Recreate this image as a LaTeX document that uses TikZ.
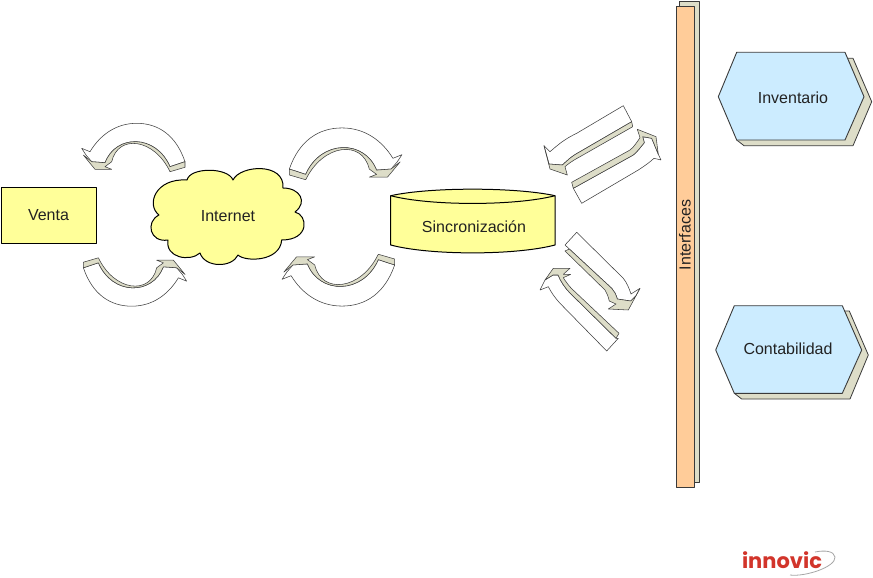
\documentclass[tikz,border=0pt]{standalone}
\usepackage{fontspec}
\setmainfont{Liberation Sans}
\newfontfamily\logofont{Poppins}
\definecolor{ylw}{HTML}{FFFF99}
\definecolor{blu}{HTML}{CCECFF}
\definecolor{org}{HTML}{FFCC99}
\definecolor{shd}{HTML}{DDDDC8}
\definecolor{edge}{HTML}{3A3A3A}
\definecolor{lbl}{HTML}{222222}
\definecolor{logored}{HTML}{D2352B}
\tikzset{
  line/.style={draw=edge,line width=0.9pt,line join=round},
  thin line/.style={draw=black!75,line width=0.55pt,line join=round},
  yellowbox/.style={draw=black,line width=1pt,line join=round,fill=ylw},
  label/.style={font=\fontsize{16}{18}\selectfont,text=lbl,inner sep=0pt},
  band/.style={thin line,fill=shd},
  face/.style={thin line,fill=white},
  backing/.style={band,draw=edge,line width=0.8pt}
}
% curved block arrow: drawn once in the coordinates of the upper-left arrow
\newcommand{\curvearrow}{%
  \path[face] (185,161.7) .. controls (176,135) and (158,123.3) .. (136.7,123.3)
     .. controls (116,123.3) and (100,135) .. (90,151.7)
     -- (81.7,148.3) -- (86,155) -- (91.7,161.7) -- (105,162.7)
     .. controls (116,134) and (156,134) .. (170,166.7) -- cycle;
  \path[band] (170,166.7) .. controls (156,134) and (116,134) .. (105,162.7)
     -- (91.7,161.7) -- (83.3,155) -- (95,169.3) -- (111.7,169.3) -- (105,166.7) -- (111.7,161.7)
     .. controls (118,134) and (154,138) .. (170,171.7)
     -- (185,167.3) -- (185,161.7) -- cycle;
}
\begin{document}
\begin{tikzpicture}[x=1pt,y=-1pt]
\useasboundingbox (0,0) rectangle (873,578);

% curved arrows
\begin{scope}\curvearrow\end{scope}
\begin{scope}[shift={(268.4,429.5)},xscale=-1,yscale=-1]\curvearrow\end{scope}
\begin{scope}[shift={(491,-4)},xscale=-1.09,yscale=1.07]\curvearrow\end{scope}
\begin{scope}[shift={(193,438)},xscale=1.09,yscale=-1.07]\curvearrow\end{scope}

% straight block arrows, upper pair
\path[face] (623.3,105.7) -- (631.7,121.7) -- (580,151.7) .. controls (570,157) and (566,162) .. (562.3,165)
  -- (549,164) -- (544,145.7) -- (550,151.7) .. controls (560,143) and (565,139) .. (576.7,133.3) -- cycle;
\path[band] (631.7,121.7) -- (632.7,126.7) -- (580,156.7) .. controls (572,161) and (568,164) .. (565,166.7)
  -- (567.3,175) -- (550,169) -- (544,145.7) -- (549,164) -- (562.3,165)
  .. controls (566,162) and (570,157) .. (580,151.7) -- cycle;
\path[face] (573.3,188.3) -- (581.7,203.3) -- (638.3,170) .. controls (646,165) and (650,162) .. (654,158.3)
  -- (661,160) -- (658.3,154.3) -- (651.7,138.3) -- (642.7,136.7) -- (644.3,142.7)
  .. controls (640,148) and (637,152) .. (633.3,155) -- cycle;
\path[band] (571.7,182.3) -- (630,150) .. controls (634,147) and (637,142) .. (640,137.7)
  -- (637.3,129.3) -- (656,136.7) -- (658.3,154.3) -- (651.7,138.3) -- (642.7,136.7) -- (644.3,142.7)
  .. controls (640,148) and (637,152) .. (633.3,155) -- (573.3,188.3) -- cycle;

% straight block arrows, lower pair
\path[face] (576.7,232.3) -- (623.3,278.3) .. controls (627,283) and (629,288) .. (631,294)
  -- (640,288.3) -- (636,295.7) -- (630.7,301) -- (617.3,299)
  .. controls (616,294) and (614,291) .. (611.7,288.3) -- (569.3,249) -- (565,245) -- cycle;
\path[band] (569.3,249) -- (611.7,288.3) .. controls (614,291) and (616,294) .. (617.3,299)
  -- (630.7,301) -- (636,295.7) -- (640,288.3) -- (628.3,310) -- (608.3,309) -- (616,304) -- (609.3,301)
  .. controls (608,296) and (607,293) .. (605,290) -- (565,251) -- cycle;
\path[face] (618.3,338.3) -- (606.7,351) -- (560,303.3) .. controls (555,298) and (551,292) .. (548.3,286.7)
  -- (540,290) -- (545,280) -- (553,275) -- (558,275) .. controls (561,282) and (565,288) .. (570,293)
  -- (616,338.3) -- cycle;
\path[band] (545,280) -- (553.3,268.3) -- (570,268.3) -- (563.3,274.3) -- (570.7,274.3) -- (563.3,277.7)
  .. controls (566,282) and (569,286) .. (572,289) -- (619,333.3) -- (616,338.3) -- (570,293)
  .. controls (565,288) and (561,282) .. (558,275) -- (553,275) -- cycle;

% Venta
\node[yellowbox,label,minimum width=95pt,minimum height=56pt] (venta) at (48.5,215) {Venta};

% Internet
\path[yellowbox] (187,180) .. controls (190,167) and (228,167) .. (233,180)
  .. controls (240,165) and (285,162) .. (283,188)
  .. controls (300,188) and (308,202) .. (295,212)
  .. controls (308,215) and (310,240) .. (281.7,240)
  .. controls (280,262) and (245,262) .. (238,255)
  .. controls (232,268) and (205,268) .. (200,253)
  .. controls (190,262) and (165,258) .. (168,240)
  .. controls (150,243) and (145,222) .. (159,215)
  .. controls (146,205) and (155,178) .. (187,180) -- cycle;
\node[label] (internet) at (228,216.5) {Internet};

% Sincronizacion
\path[yellowbox] (390.7,195.7) .. controls (430,187) and (515,187) .. (555,195.7)
  -- (555,245) .. controls (515,255.5) and (430,255.5) .. (390.7,245) -- cycle;
\draw[yellowbox,fill=none] (390.7,195.7) .. controls (430,206) and (515,206) .. (555,195.7);
\node[label] (sinc) at (474,226.5) {Sincronización};

% Interfaces
\path[backing] (679.5,1) rectangle (699,482.5);
\node[line,fill=org,minimum width=18.3pt,minimum height=481pt,inner sep=0pt] (interfaces) at (685.2,247) {};
\node[label,rotate=90] (interfaceslabel) at (685,235) {Interfaces};

% Inventario
\path[backing] (844,58.3) -- (853,58.3) -- (871.7,101.7) -- (853,145.7) -- (744,145.7) -- (736.7,140) -- cycle;
\path[line,fill=blu] (736.7,52.3) -- (845,52.3) -- (864,96.7) -- (845,140) -- (736.7,140) -- (718.3,96.7) -- cycle;
\node[label] (inventario) at (793,97.5) {Inventario};

% Contabilidad
\path[backing] (842.3,311) -- (849.3,311) -- (868.3,355) -- (850,399) -- (741.7,399) -- (734.3,393.3) -- cycle;
\path[line,fill=blu] (734.3,305.7) -- (842.3,305.7) -- (861.7,350) -- (842.3,393.3) -- (734.3,393.3) -- (715.7,350) -- cycle;
\node[label] (contabilidad) at (788,348.5) {Contabilidad};

% logo
\draw[black!35,line width=0.8pt] (790,575) .. controls (805,577) and (836,567) .. (835,557) .. controls (834,551) and (825,550) .. (815,552);
\node[inner sep=0pt,text=logored,font=\logofont\bfseries\fontsize{21}{21}\selectfont] (logo) at (782,560) {innovic};
\end{tikzpicture}
\end{document}
